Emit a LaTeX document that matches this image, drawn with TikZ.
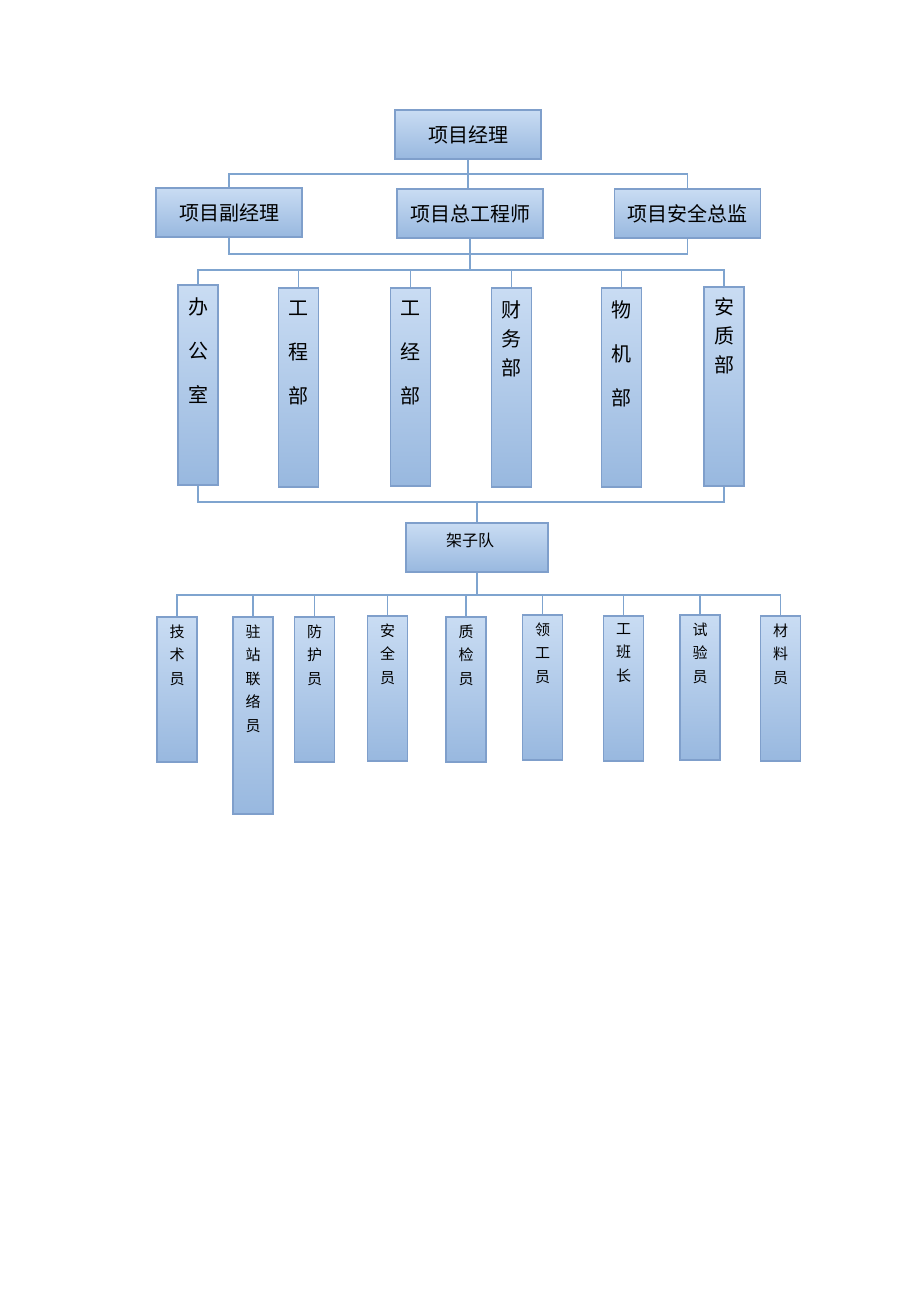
\documentclass[tikz,border=0pt]{standalone}
\usepackage{fontspec}
\setmainfont{Noto Sans CJK SC}
\definecolor{boxtop}{HTML}{C9DCF3}
\definecolor{boxbot}{HTML}{98B8DF}
\definecolor{boxline}{HTML}{7F9FCB}
\definecolor{wire}{HTML}{7FA4CF}
\tikzset{
  orgbox/.style={rectangle, inner sep=0pt, draw=boxline, line width=1.4pt,
    top color=boxtop, bottom color=boxbot},
  headbox/.style={orgbox, minimum width=146pt, minimum height=49pt,
    font=\fontsize{20}{24}\selectfont},
  tallbox/.style={orgbox, minimum width=40pt},
  smallbox/.style={orgbox, minimum width=40pt, minimum height=145pt},
  wide/.style={font=\fontsize{20}{44}\selectfont, align=center, inner sep=0pt},
  tight/.style={font=\fontsize{20}{29}\selectfont, align=center, inner sep=0pt},
  small/.style={font=\fontsize{15}{23.5}\selectfont, align=center, inner sep=0pt},
  wire/.style={draw=wire, line width=1.4pt}
}
\begin{document}
\begin{tikzpicture}[x=1pt, y=-1pt]

    \useasboundingbox (0,0) rectangle (920,1302);

    % first rows
    \node [headbox] (mgr) at (468,   134.5) {项目经理};
    \node [headbox] (dep) at (229,   212.5) {项目副经理};
    \node [headbox] (chf) at (470,   213.5) {项目总工程师};
    \node [headbox] (saf) at (687.5, 213.5) {项目安全总监};

    \coordinate (bus1) at (468, 174);
    \coordinate (bus2) at (470, 254);
    \coordinate (bus3) at (470, 270);

    \draw [wire] (mgr.south) -- (bus1);
    \draw [wire] (dep.north) |- (bus1) -| (saf.north);
    \draw [wire] (bus1) -- (bus1 |- chf.north);
    \draw [wire] (dep.south) |- (bus2) -| (saf.south);
    \draw [wire] (chf.south) -- (chf.south |- bus3);

    % departments
    \node [tallbox, minimum height=200pt, label={[wide, anchor=north, yshift=-13pt]north:办\\公\\室}] (bgs) at (198,   385)   {};
    \node [tallbox, minimum height=199pt, label={[wide, anchor=north, yshift=-13pt]north:工\\程\\部}] (gcb) at (298.5, 387.5) {};
    \node [tallbox, minimum height=198pt, label={[wide, anchor=north, yshift=-13pt]north:工\\经\\部}] (gjb) at (410.5, 387)   {};
    \node [tallbox, minimum height=199pt, label={[tight, anchor=north, yshift=-13pt]north:财\\务\\部}] (cwb) at (511.5, 387.5) {};
    \node [tallbox, minimum height=199pt, label={[wide, anchor=north, yshift=-13pt]north:物\\机\\部}] (wjb) at (621.5, 387.5) {};
    \node [tallbox, minimum height=199pt, label={[tight, anchor=north, yshift=-11pt]north:安\\质\\部}] (azb) at (724,   386.5) {};

    \draw [wire] (bgs.north) |- (bus3) -| (azb.north);
    \foreach \n in {gcb, gjb, cwb, wjb}
        \draw [wire] (\n.north) -- (\n.north |- bus3);

    \coordinate (bus4) at (477, 502);
    \draw [wire] (bgs.south) |- (bus4) -| (azb.south);

    % team
    \node [orgbox, minimum width=142pt, minimum height=49pt,
           label={[font=\fontsize{16}{20}\selectfont, xshift=-7pt, yshift=7pt]center:架子队}] (jzd) at (477, 547.5) {};
    \draw [wire] (bus4) -- (jzd.north);

    \coordinate (bus5) at (477, 595);
    \draw [wire] (jzd.south) -- (bus5);

    \node [smallbox, label={[small, anchor=north, yshift=-8pt]north:技\\术\\员}] (js) at (177,   689.5) {};
    \node [smallbox, minimum height=197pt, label={[small, anchor=north, yshift=-8pt]north:驻\\站\\联\\络\\员}] (zz) at (253, 715.5) {};
    \node [smallbox, label={[small, anchor=north, yshift=-8pt]north:防\\护\\员}] (fh) at (314.5, 689.5) {};
    \node [smallbox, label={[small, anchor=north, yshift=-8pt]north:安\\全\\员}] (aq) at (387.5, 688.5) {};
    \node [smallbox, label={[small, anchor=north, yshift=-8pt]north:质\\检\\员}] (zj) at (466,   689.5) {};
    \node [smallbox, label={[small, anchor=north, yshift=-8pt]north:领\\工\\员}] (lg) at (542.5, 687.5) {};
    \node [smallbox, label={[small, anchor=north, yshift=-8pt]north:工\\班\\长}] (gb) at (623.5, 688.5) {};
    \node [smallbox, label={[small, anchor=north, yshift=-8pt]north:试\\验\\员}] (sy) at (700,   687.5) {};
    \node [smallbox, label={[small, anchor=north, yshift=-8pt]north:材\\料\\员}] (cl) at (780.5, 688.5) {};

    \draw [wire] (js.north) |- (bus5) -| (cl.north);
    \foreach \n in {zz, fh, aq, zj, lg, gb, sy}
        \draw [wire] (\n.north) -- (\n.north |- bus5);

\end{tikzpicture}
\end{document}
